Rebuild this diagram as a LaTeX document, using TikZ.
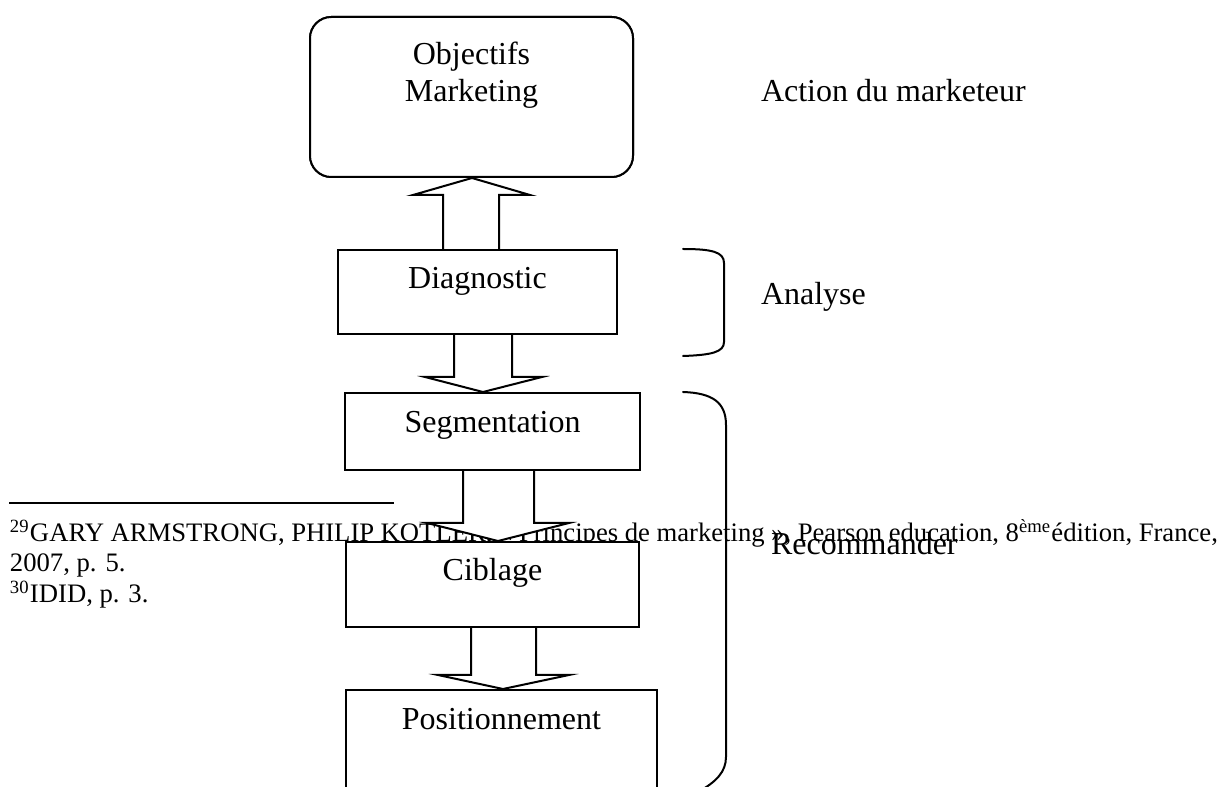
\documentclass[tikz,border=0pt]{standalone}
\usepackage{fontspec}
\setmainfont{Liberation Serif}
\usetikzlibrary{calc}
\begin{document}
\begin{tikzpicture}[x=0.375pt,y=-0.375pt,line width=0.75pt,
  box/.style={draw,fill=white,rectangle,inner sep=0pt,anchor=north west},
  lbl/.style={anchor=base,inner sep=0pt,font=\fontsize{12}{14}\selectfont},
  side/.style={anchor=base west,inner sep=0pt,font=\fontsize{12}{14}\selectfont},
  note/.style={anchor=base west,inner sep=0pt,font=\fontsize{10}{11.5}\selectfont},
  barrow/.style={draw,fill=white,line join=miter},
  brace/.style={draw,line cap=round}]
\useasboundingbox (0,0) rectangle (1230,787);
\clip (0,0) rectangle (1230,787);

% footnotes of the page
\coordinate (ruleL) at (9,503);
\coordinate (ruleR) at (394,503);
\draw[line width=1pt] (ruleL) -- (ruleR);
\node[note] (fnA) at (9,542) {\makebox[453pt][s]{\textsuperscript{29}GARY ARMSTRONG, PHILIP KOTLER, « Principes de marketing », Pearson education, 8\textsuperscript{ème}édition, France,}};
\node[note] (fnB) at (9,572) {2007, p. 5.};
\node[note] (fnC) at (9,603) {\textsuperscript{30}IDID, p. 3.};

% boxes (placed first so arrows can refer to them)
\path (309,16) node[box,rounded corners=8pt,minimum width=121.125pt,minimum height=60pt] (obj) {};
\path (337,249) node[box,minimum width=104.625pt,minimum height=31.5pt] (diag) {};
\path (344,392) node[box,minimum width=110.625pt,minimum height=28.875pt] (seg) {};
\path (345,541) node[box,minimum width=109.875pt,minimum height=31.875pt] (cib) {};
\path (345,689) node[box,minimum width=116.625pt,minimum height=45pt] (pos) {};

% block arrows between the boxes
\draw[barrow] (443,0 |- diag.north) -- (443,195) -- (413,195) -- (472,0 |- obj.south) -- (530,195) -- (499,195) -- (499,0 |- diag.north);
\draw[barrow] (454,0 |- diag.south) -- (454,377) -- (425,377) -- (483,0 |- seg.north) -- (542,377) -- (512,377) -- (512,0 |- diag.south);
\draw[barrow] (463,0 |- seg.south) -- (463,523) -- (427,523) -- (498,0 |- cib.north) -- (569,523) -- (534,523) -- (534,0 |- seg.south);
\draw[barrow] (471,0 |- cib.south) -- (471,675) -- (438,675) -- (503,0 |- pos.north) -- (569,675) -- (536,675) -- (536,0 |- cib.south);

% boxes redrawn on top of the arrow ends
\path (309,16) node[box,rounded corners=8pt,minimum width=121.125pt,minimum height=60pt] (objT) {};
\path (337,249) node[box,minimum width=104.625pt,minimum height=31.5pt] (diagT) {};
\path (344,392) node[box,minimum width=110.625pt,minimum height=28.875pt] (segT) {};
\path (345,541) node[box,minimum width=109.875pt,minimum height=31.875pt] (cibT) {};
\path (345,689) node[box,minimum width=116.625pt,minimum height=45pt] (posT) {};

% box labels
\node[lbl] (tObj1) at (obj.north |- 0,65) {Objectifs};
\node[lbl] (tObj2) at (obj.north |- 0,102) {Marketing};
\node[lbl] (tDiag) at (diag.north |- 0,289) {Diagnostic};
\node[lbl] (tSeg) at (seg.north |- 0,433) {Segmentation};
\node[lbl] (tCib) at (cib.north |- 0,581) {Ciblage};
\node[lbl] (tPos) at (pos.north |- 0,730) {Positionnement};

% braces and their captions
\draw[brace] (683,249) .. controls (712,249) and (724,252) .. (724,263) -- (724,342) .. controls (724,352) and (712,355) .. (683,356);
\draw[brace] (683,392) .. controls (712,393) and (726,402) .. (726,425) -- (726,757) .. controls (726,772) and (716,782) .. (698,792);
\node[side] (sAct) at (760,102) {Action du marketeur};
\node[side] (sAna) at (760,305) {Analyse};
\node[side] (sRec) at (770,555) {Recommander};
\end{tikzpicture}
\end{document}
